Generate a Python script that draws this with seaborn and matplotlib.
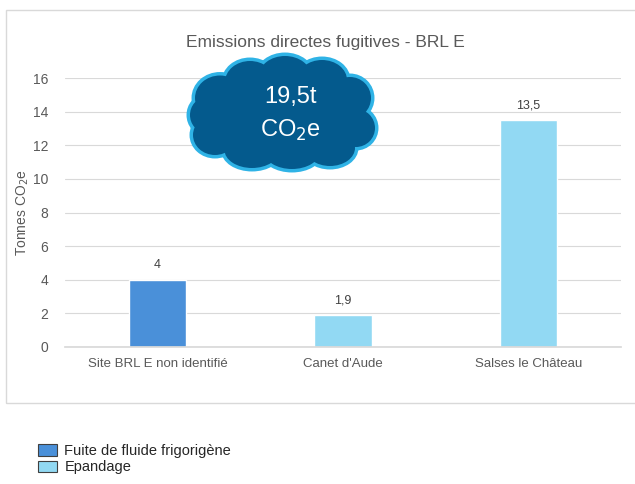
import matplotlib
matplotlib.use("Agg")
import matplotlib.pyplot as plt
import seaborn as sns
import pandas as pd
from matplotlib.patches import Rectangle, Ellipse, Patch

categories = ["Site BRL E non identifié", "Canet d'Aude", "Salses le Château"]
values = [4.0, 1.9, 13.5]
series = ["Fuite de fluide frigorigène", "Epandage", "Epandage"]
value_labels = ["4", "1,9", "13,5"]
series_names = ["Fuite de fluide frigorigène", "Epandage"]
palette = {"Fuite de fluide frigorigène": "#4A90D9", "Epandage": "#92D9F3"}
yticks = [0, 2, 4, 6, 8, 10, 12, 14, 16]

sns.set_theme(style="white")
plt.rcParams['font.family'] = ['Liberation Sans', 'DejaVu Sans']

df = pd.DataFrame({"cat": categories, "val": values, "serie": series})

fig = plt.figure(figsize=(6.35, 4.84), dpi=100)
# outer chart box
fig.patches.append(Rectangle((6/635, 1-403/484), 640/635, (403-10)/484,
                             transform=fig.transFigure, fill=False,
                             edgecolor="#d9d9d9", linewidth=1.0))

ax = fig.add_axes([65/635, 1-347/484, (621-65)/635, (347-78)/484])
sns.barplot(data=df, x="cat", y="val", hue="serie", palette=palette,
            dodge=False, width=0.31, saturation=1, ax=ax, legend=False)
ax.set_xlim(-0.5, 2.5)
ax.set_ylim(0, 16)
ax.set_yticks(yticks)
ax.set_yticklabels([str(t) for t in yticks], color="#595959", fontsize=10)
ax.tick_params(axis="x", colors="#595959", labelsize=9.5, length=0, pad=8)
ax.tick_params(axis="y", length=0, pad=12)
ax.yaxis.grid(True, color="#d9d9d9", linewidth=0.8)
ax.set_axisbelow(True)
for s in ["top", "right", "left"]:
    ax.spines[s].set_visible(False)
ax.spines["bottom"].set_color("#d9d9d9")
ax.set_xlabel("")
ax.set_ylabel("Tonnes CO$_2$e", color="#595959", fontsize=10, labelpad=1)

for i, (v, lab) in enumerate(zip(values, value_labels)):
    ax.annotate(lab, (i, v), xytext=(0, 6), textcoords="offset points",
                ha="center", va="bottom", fontsize=9, color="#404040")

fig.text(325/635, 1-42/484, "Emissions directes fugitives - BRL E",
         ha="center", va="center", fontsize=12.5, color="#595959")

# cloud shape
cloud_parts = [
    (283, 115, 150, 78),
    (220, 98, 50, 45),
    (250, 82, 50, 42),
    (285, 76, 52, 40),
    (322, 80, 50, 40),
    (350, 98, 42, 42),
    (356, 128, 38, 38),
    (330, 148, 50, 36),
    (292, 152, 55, 34),
    (252, 150, 55, 36),
    (215, 135, 44, 40),
    (205, 115, 30, 34),
]
for lw, col in [(5, "#2FB3E6"), (0, "#045A8D")]:
    for cx, cy, w, h in cloud_parts:
        e = Ellipse((cx/635, 1-cy/484), w/635, h/484, transform=fig.transFigure,
                    facecolor=col, edgecolor=col, linewidth=lw, zorder=5)
        fig.patches.append(e)
fig.text(290/635, 1-97/484, "19,5t", ha="center", va="center",
         fontsize=17, color="white", zorder=10)
fig.text(290/635, 1-130/484, "CO$_2$e", ha="center", va="center",
         fontsize=17, color="white", zorder=10)

handles = [Patch(facecolor=palette[n], edgecolor="#404040", linewidth=0.8, label=n)
           for n in series_names]
fig.legend(handles=handles, loc="upper left", bbox_to_anchor=(38/635, 1-444/484),
           frameon=False, fontsize=10.5, handlelength=1.3, handleheight=0.8,
           handletextpad=0.5, labelspacing=0.15, borderpad=0, borderaxespad=0)

fig.savefig("out.png", dpi=100)
